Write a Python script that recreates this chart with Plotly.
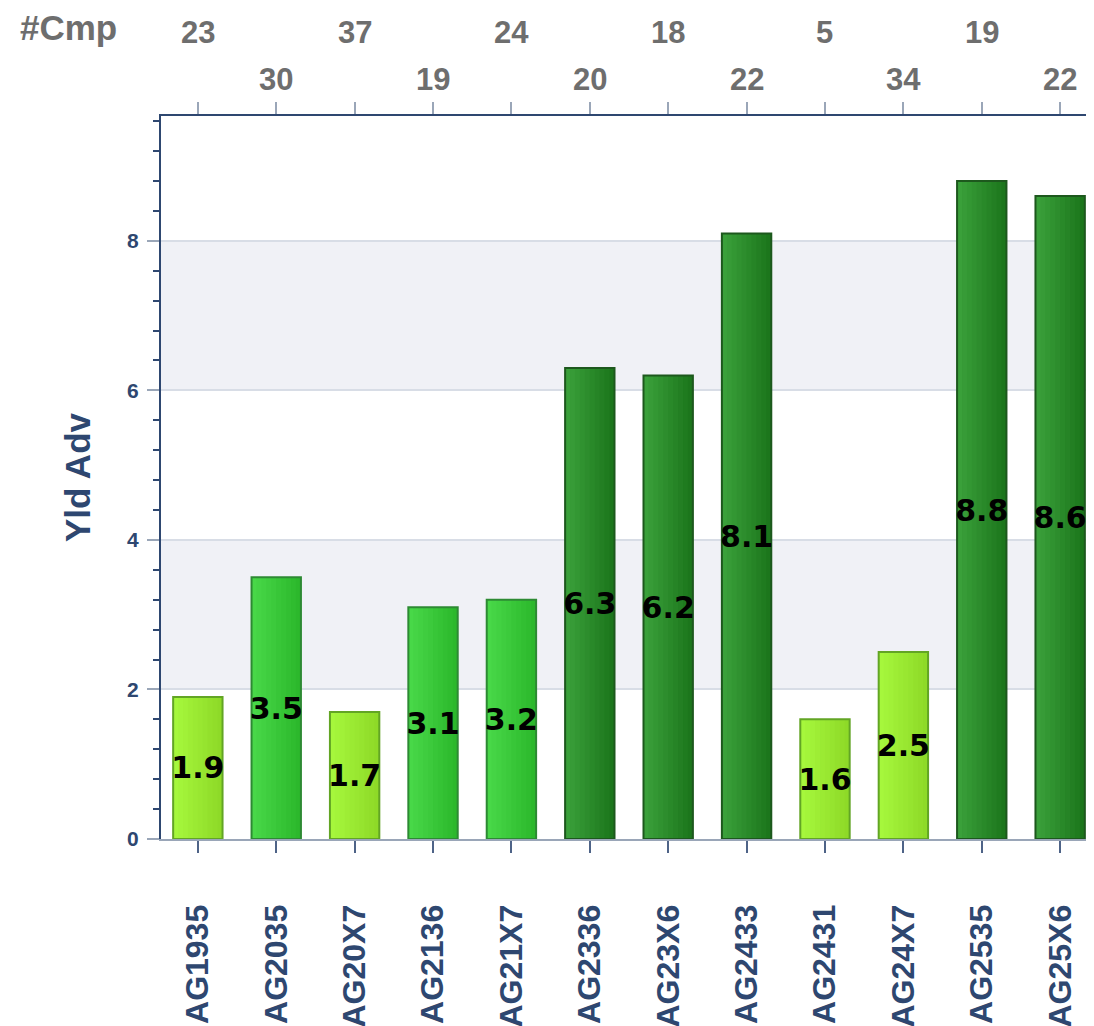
import plotly.graph_objects as go

categories = ["AG1935", "AG2035", "AG20X7", "AG2136", "AG21X7", "AG2336",
              "AG23X6", "AG2433", "AG2431", "AG24X7", "AG2535", "AG25X6"]
yld_adv = [1.9, 3.5, 1.7, 3.1, 3.2, 6.3, 6.2, 8.1, 1.6, 2.5, 8.8, 8.6]
cmp_counts = [23, 30, 37, 19, 24, 20, 18, 22, 5, 34, 19, 22]
y_ticks = [0, 2, 4, 6, 8]
bands = [(2, 4), (6, 8)]

NAVY = "#2e4770"
GREYBLUE = "#9aa6b8"
AXFONT = "Liberation Sans"
LBLFONT = "DejaVu Sans"
BAR_W = 0.63
N_STRIPES = 10

# (left colour, right colour, outline)
TIERS = {
    "light": ((0xA6, 0xF7, 0x3C), (0x8E, 0xDA, 0x28), "#62a524"),
    "mid": ((0x48, 0xD8, 0x48), (0x2C, 0xB8, 0x2C), "#2d8a33"),
    "dark": ((0x3A, 0xA0, 0x3A), (0x1C, 0x76, 0x1C), "#1d581d"),
}


def tier(v):
    if v < 3:
        return "light"
    if v < 5:
        return "mid"
    return "dark"


def mix(a, b, t):
    return "rgb({},{},{})".format(*[round(a[i] + (b[i] - a[i]) * t) for i in range(3)])


tiers = [tier(v) for v in yld_adv]

fig = go.Figure()
sw = BAR_W / N_STRIPES
for k in range(N_STRIPES):
    t = k / (N_STRIPES - 1)
    fig.add_trace(go.Bar(
        x=categories, y=yld_adv, width=BAR_W - k * sw, offset=-BAR_W / 2 + k * sw,
        marker=dict(color=[mix(TIERS[g][0], TIERS[g][1], t) for g in tiers], line_width=0),
        showlegend=False, hoverinfo="skip",
    ))
fig.add_trace(go.Bar(
    x=categories, y=yld_adv, width=BAR_W, offset=-BAR_W / 2,
    marker=dict(color="rgba(0,0,0,0)", line=dict(color=[TIERS[g][2] for g in tiers], width=2)),
    text=[f"{v:.1f}" for v in yld_adv],
    textposition="inside", insidetextanchor="middle", constraintext="none", textangle=0,
    textfont=dict(family=LBLFONT, size=30, color="black", weight="bold"),
    showlegend=False, hoverinfo="x+y",
))
fig.add_trace(go.Scatter(x=categories, y=[None] * len(categories), xaxis="x2",
                         showlegend=False, hoverinfo="skip"))

for lo, hi in bands:
    fig.add_shape(type="rect", xref="paper", x0=0, x1=1, yref="y", y0=lo, y1=hi,
                  fillcolor="#f0f1f6", line_width=0, layer="below")

for i, (c, n) in enumerate(zip(categories, cmp_counts)):
    fig.add_annotation(x=c, xref="x", y=1.115 if i % 2 == 0 else 1.05, yref="paper",
                       text=str(n), showarrow=False, yanchor="middle", xanchor="center",
                       font=dict(family=AXFONT, size=31, color="#6e6e6e", weight="bold"))
fig.add_annotation(x=-0.099, xref="paper", y=1.122, yref="paper", text="#Cmp",
                   showarrow=False, yanchor="middle", xanchor="center",
                   font=dict(family=AXFONT, size=35, color="#6e6e6e", weight="bold"))

fig.update_layout(
    width=1094, height=1026,
    margin=dict(l=153, r=5, t=108, b=195),
    paper_bgcolor="white", plot_bgcolor="white",
    barmode="overlay",
    xaxis=dict(
        type="category", range=[-0.47, 11.47],
        showline=True, linecolor=GREYBLUE, linewidth=2,
        ticks="outside", ticklen=12, tickwidth=2, tickcolor="#4e6387",
        tickangle=-90, ticklabelstandoff=39,
        tickfont=dict(family=AXFONT, size=32, color=NAVY, weight="bold"),
        showgrid=False,
    ),
    xaxis2=dict(
        type="category", overlaying="x", side="top", matches="x",
        showline=True, linecolor=NAVY, linewidth=2,
        ticks="outside", ticklen=12, tickwidth=2, tickcolor=GREYBLUE,
        showticklabels=False, showgrid=False,
    ),
    yaxis=dict(
        range=[0, 9.67], tickvals=y_ticks,
        showline=True, linecolor=NAVY, linewidth=2,
        ticks="outside", ticklen=12, tickwidth=2, tickcolor=GREYBLUE,
        ticklabelstandoff=4,
        tickfont=dict(family=AXFONT, size=21, color=NAVY, weight="bold"),
        showgrid=True, gridcolor="#d8dde6", gridwidth=2, zeroline=False,
        minor=dict(dtick=0.4, tick0=0, ticks="outside", ticklen=6, tickwidth=2,
                   tickcolor=NAVY, showgrid=False),
        title=dict(text="Yld Adv", standoff=26,
                   font=dict(family=AXFONT, size=35, color=NAVY, weight="bold")),
    ),
)

fig.write_html("out.html")
